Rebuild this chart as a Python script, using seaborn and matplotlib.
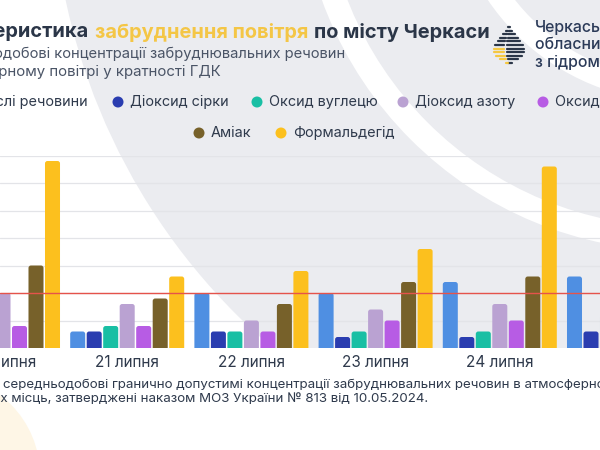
import numpy as np
import pandas as pd
import matplotlib
matplotlib.use("Agg")
import matplotlib.pyplot as plt
import seaborn as sns
from matplotlib.patches import Circle, Rectangle, FancyBboxPatch

# Дані: середньодобові концентрації у кратності ГДК
dates = ["20 липня", "21 липня", "22 липня", "23 липня", "24 липня", "25 липня"]
pollutants = ["Завислі речовини", "Діоксид сірки", "Оксид вуглецю", "Діоксид азоту",
              "Оксид азоту", "Аміак", "Формальдегід"]
colors = ["#4f8fe2", "#2a3db0", "#19bfa4", "#baa2d2", "#b75ce4", "#77612a", "#fcc01e"]

suspended = [1.0, 0.3, 1.0, 1.0, 1.2, 1.3]
so2 = [0.3, 0.3, 0.3, 0.2, 0.2, 0.3]
co = [0.3, 0.4, 0.3, 0.3, 0.3, 0.6]
no2 = [1.0, 0.8, 0.5, 0.7, 0.8, 0.8]
no = [0.4, 0.4, 0.3, 0.5, 0.5, 0.5]
nh3 = [1.5, 0.9, 0.8, 1.2, 1.3, 1.2]
hcho = [3.4, 1.3, 1.4, 1.8, 3.3, 2.0]
gdk = 1.0

series = [suspended, so2, co, no2, no, nh3, hcho]
rows = []
for name, vals in zip(pollutants, series):
    for d, v in zip(dates, vals):
        rows.append({"date": d, "pollutant": name, "value": v})
df = pd.DataFrame(rows)

sns.set_theme(style="white")
plt.rcParams["font.family"] = ["Inter", "DejaVu Sans"]

navy = "#2b3648"
text_col = "#2f3a4c"
gray_bg = "#ebecf0"

fig = plt.figure(figsize=(6, 4.5), dpi=100)
fig.patch.set_facecolor("white")

# фон у піксельних координатах
bg = fig.add_axes([0, 0, 1, 1], zorder=0)
bg.set_xlim(0, 600)
bg.set_ylim(450, 0)
bg.axis("off")
cx, cy = 680, -130
for r, c in [(628, gray_bg), (381, "white"), (357, gray_bg), (232, "white"), (210, gray_bg)]:
    bg.add_patch(Circle((cx, cy), r, color=c, lw=0))
bg.add_patch(Rectangle((0, 348), 600, 102, color="white", lw=0))
bg.add_patch(Circle((-60, 475), 100, color="#fef6e6", lw=0))

# заголовок
t3 = bg.text(490, 32, "по місту Черкаси", ha="right", va="center",
             fontsize=14.4, fontweight="bold", color=navy)
t2 = bg.annotate("забруднення повітря", xy=(0, 0.5), xycoords=t3, xytext=(-4.5, 0),
                 textcoords="offset points", ha="right", va="center",
                 fontsize=14.4, fontweight="bold", color="#f4c646")
bg.annotate("Характеристика", xy=(0, 0.5), xycoords=t2, xytext=(-4.5, 0),
            textcoords="offset points", ha="right", va="center",
            fontsize=14.4, fontweight="bold", color=navy)
bg.text(345, 54, "Середньодобові концентрації забруднювальних речовин",
        ha="right", va="center", fontsize=10.6, color="#4a5466")
bg.text(221, 72, "в атмосферному повітрі у кратності ГДК",
        ha="right", va="center", fontsize=10.8, color="#4a5466")

# логотип
xc = 509
for y in np.arange(27, 65, 3.6):
    t = (y - 24) / 41
    w = 15 * np.sin(np.pi * t ** 1.5)
    bg.plot([xc - 0.15 * w, xc + w], [y, y], color=navy, lw=1.6, solid_capstyle="round")
    col = "#f5c842" if t > 0.55 else navy
    bg.plot([xc - w, xc - 0.35 * w], [y, y], color=col, lw=1.6, solid_capstyle="round")
for i, line in enumerate(["Черкаський", "обласний центр", "з гідрометеорології"]):
    bg.text(535, 27 + 17.5 * i, line, ha="left", va="center", fontsize=11.4,
            fontweight="medium", color="#2b3a58")

# легенда
bg.text(88, 102, pollutants[0], ha="right", va="center", fontsize=10.4, color=text_col)
legend_pos = [(118, 102), (257, 102), (403, 102), (543, 102), (199, 133), (281, 133)]
for (mx, my), name, c in zip(legend_pos, pollutants[1:], colors[1:]):
    bg.add_patch(Circle((mx, my), 5.5, color=c, lw=0))
    bg.text(mx + 12, my, name, ha="left", va="center", fontsize=10.4, color=text_col)

# примітка
bg.text(3, 385, "* ГДК – ", ha="right", va="center", fontsize=9.6, color=text_col)
bg.text(3, 385, "середньодобові гранично допустимі концентрації забруднювальних речовин в атмосферному",
        ha="left", va="center", fontsize=9.6, color=text_col)
bg.text(428, 399, "повітрі населених місць, затверджені наказом МОЗ України № 813 від 10.05.2024.",
        ha="right", va="center", fontsize=9.6, color=text_col)

# графік
ax = fig.add_axes([0, 102 / 450, 1, 192.5 / 450], zorder=1)
ax.patch.set_alpha(0)
sns.barplot(data=df, x="date", y="value", hue="pollutant", hue_order=pollutants,
            order=dates, palette=colors, saturation=1, width=0.93, gap=0.09,
            linewidth=0, legend=False, ax=ax)

# заокруглені верхівки стовпців
ry = 2.5 / 55
for bar in list(ax.patches):
    x, w, h = bar.get_x(), bar.get_width(), bar.get_height()
    fb = FancyBboxPatch((x, -ry), w, h + ry, boxstyle="round,pad=0,rounding_size=0.02",
                        mutation_aspect=124.2 / 55, color=bar.get_facecolor(), lw=0, zorder=2)
    ax.add_patch(fb)
    bar.remove()

ax.axhline(gdk, color="#e5534b", lw=1.0, zorder=3)
ax.set_xlim(-3 / 124.2, 597 / 124.2)
ax.set_ylim(0, 3.5)
ax.set_yticks(np.arange(0.5, 3.6, 0.5))
ax.set_yticklabels([])
ax.grid(axis="y", color="#e3e4e8", lw=0.9)
ax.set_axisbelow(True)
ax.tick_params(axis="x", length=0, pad=5, labelsize=11, labelcolor=text_col)
ax.tick_params(axis="y", length=0)
ax.set_xlabel("")
ax.set_ylabel("")
for s in ax.spines.values():
    s.set_visible(False)

fig.savefig("out.png", dpi=100)
